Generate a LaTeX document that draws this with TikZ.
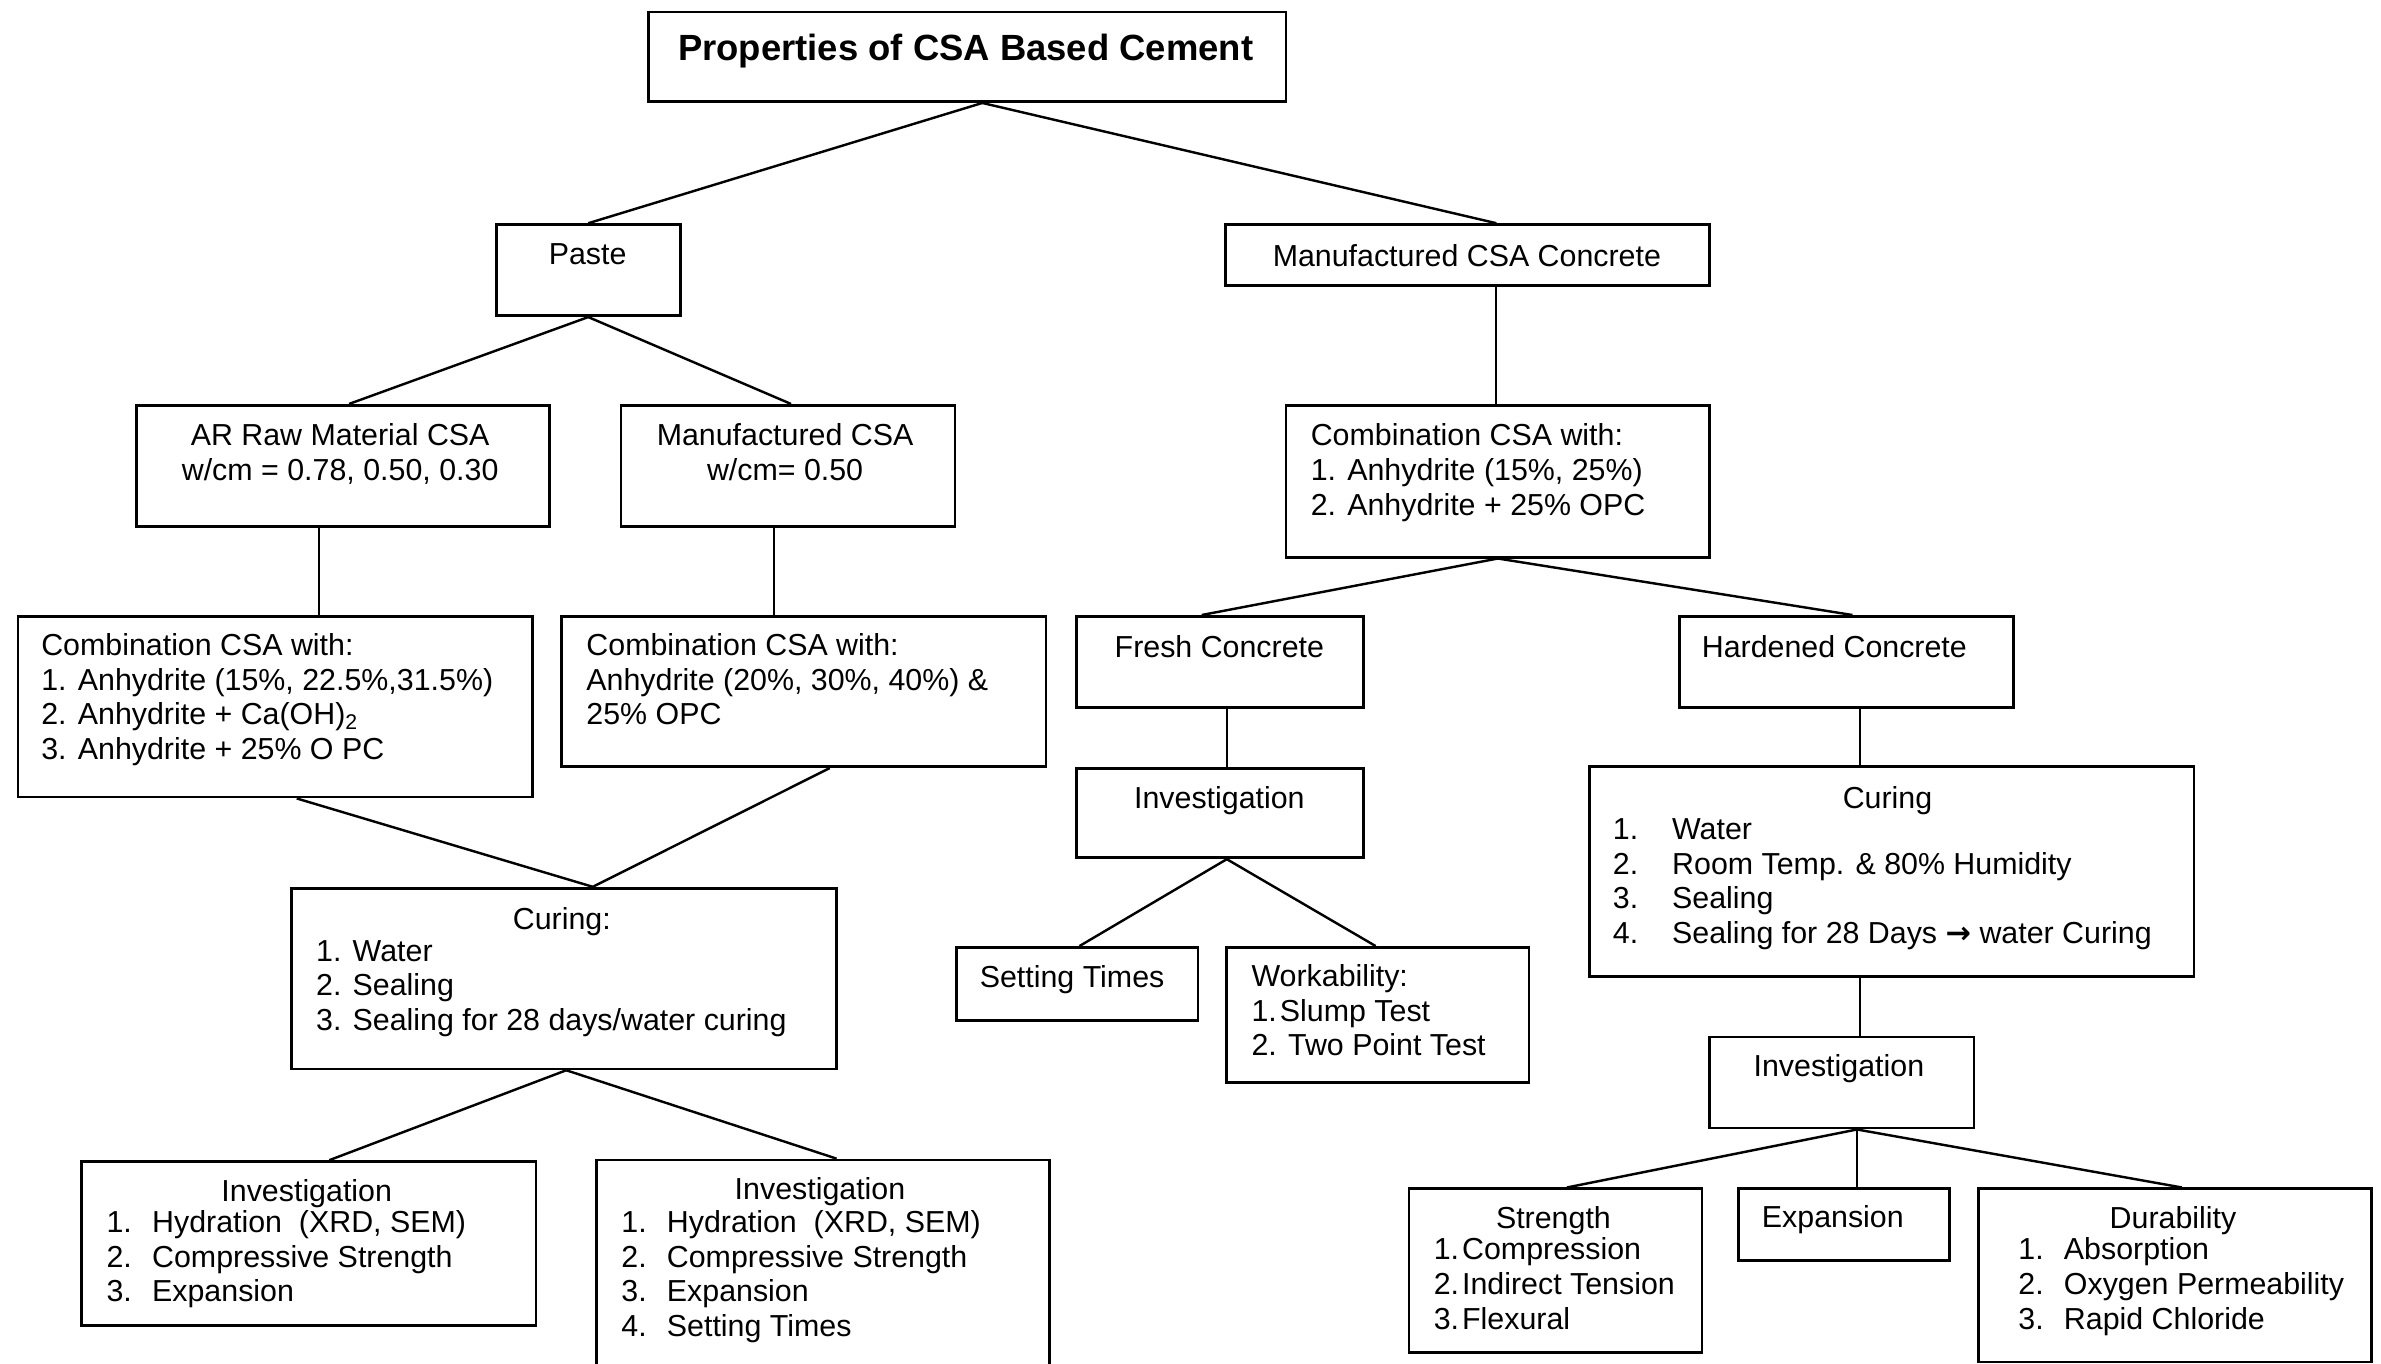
\documentclass[tikz,border=0pt]{standalone}
\usepackage{fontspec}
\setmainfont{Liberation Sans}
\newfontfamily\djv{DejaVu Sans}
\newcommand\fs{\fontsize{20}{22.8}\selectfont}
\newcommand\nm[2][30pt]{\makebox[#1][l]{#2}}
\tikzset{
  box/.style={draw, line width=1.8pt, inner sep=0pt, anchor=north west, rectangle},
  conn/.style={line width=1.6pt},
  vconn/.style={line width=1.2pt},
  tl/.style={inner sep=0pt, anchor=north west, yshift=16pt, align=left, font=\fs, execute at begin node={\rule{0pt}{16pt}}},
  tc/.style={inner sep=0pt, anchor=north, yshift=16pt, align=center, font=\fs, execute at begin node={\rule{0pt}{16pt}}},
}
\begin{document}
\begin{tikzpicture}[x=1pt,y=-1pt]
\useasboundingbox (0,0) rectangle (1568,898);
\clip (0,0) rectangle (1568,898);
% boxes
\node[box, minimum width=420pt, minimum height=59pt] (title) at (426,7) {};
\node[box, minimum width=121pt, minimum height=60pt] (paste) at (326,147) {};
\node[box, minimum width=319pt, minimum height=40pt] (mcc) at (806,147) {};
\node[box, minimum width=272pt, minimum height=80pt] (ar) at (89,266) {};
\node[box, minimum width=220pt, minimum height=80pt] (mcsa) at (408,266) {};
\node[box, minimum width=279pt, minimum height=100pt] (comb3) at (846,266) {};
\node[box, minimum width=339pt, minimum height=119pt] (comb1) at (11,405) {};
\node[box, minimum width=319pt, minimum height=99pt] (comb2) at (369,405) {};
\node[box, minimum width=189pt, minimum height=60pt] (fresh) at (708,405) {};
\node[box, minimum width=220pt, minimum height=60pt] (hard) at (1105,405) {};
\node[box, minimum width=189pt, minimum height=59pt] (invf) at (708,505) {};
\node[box, minimum width=359pt, minimum height=119pt] (cur1) at (191,584) {};
\node[box, minimum width=398pt, minimum height=138pt] (cur2) at (1046,504) {};
\node[box, minimum width=159pt, minimum height=48pt] (setting) at (629,623) {};
\node[box, minimum width=199pt, minimum height=89pt] (work) at (807,623) {};
\node[box, minimum width=174pt, minimum height=60pt] (invh) at (1125,682) {};
\node[box, minimum width=299pt, minimum height=108pt] (invA) at (53,764) {};
\node[box, minimum width=298pt, minimum height=150pt] (invB) at (392,763) {};
\node[box, minimum width=193pt, minimum height=108pt] (strength) at (927,782) {};
\node[box, minimum width=139pt, minimum height=47pt] (expan) at (1144,782) {};
\node[box, minimum width=259pt, minimum height=114pt] (dura) at (1302,782) {};
% texts
\node[inner sep=0pt, anchor=base, font=\fontsize{24}{28}\selectfont\bfseries] (t-title) at (636,40) {Properties of CSA Based Cement};
\node[tc] (t-paste) at (387,174) {Paste};
\node[tc] (t-mcc) at (966,175) {Manufactured CSA Concrete};
\node[tc] (t-ar) at (224,295) {AR Raw Material CSA\\w/cm = 0.78, 0.50, 0.30};
\node[tc] (t-mcsa) at (517,295) {Manufactured CSA\\w/cm= 0.50};
\node[tl] (t-comb3) at (863,295) {Combination CSA with:\\1. Anhydrite (15\%, 25\%)\\2. Anhydrite + 25\% OPC};
\node[tl] (t-comb1) at (27,433) {Combination CSA with:\\1. Anhydrite (15\%, 22.5\%,31.5\%)\\2. Anhydrite + Ca(OH)\textsubscript{2}\\3. Anhydrite + 25\% O PC};
\node[tl] (t-comb2) at (386,433) {Combination CSA with:\\Anhydrite (20\%, 30\%, 40\%) \&\\25\% OPC};
\node[tc] (t-fresh) at (803,433) {Fresh Concrete};
\node[tc] (t-hard) at (1208,433) {Hardened Concrete};
\node[tc] (t-invf) at (803,532) {Investigation};
\node[tc] (t-cur1h) at (370,612) {Curing:};
\node[tl] (t-cur1) at (208,635) {1. Water\\2. Sealing\\3. Sealing for 28 days/water curing};
\node[tc] (t-cur2h) at (1243,532) {Curing};
\node[tl] (t-cur2) at (1062,555) {\nm[39pt]{1.}Water\\\nm[39pt]{2.}Room Temp. \& 80\% Humidity\\\nm[39pt]{3.}Sealing\\\nm[39pt]{4.}Sealing for 28 Days {\djv\bfseries →} water Curing};
\node[tc] (t-setting) at (706,650) {Setting Times};
\node[tl] (t-work) at (824,651) {Workability:\\1.\hspace{2pt}Slump Test\\2. Two Point Test};
\node[tc] (t-invh) at (1211,709) {Investigation};
\node[tc] (t-invAh) at (202,791) {Investigation};
\node[tl] (t-invA) at (70,813) {\nm{1.}Hydration\ \ (XRD, SEM)\\\nm{2.}Compressive Strength\\\nm{3.}Expansion};
\node[tc] (t-invBh) at (540,790) {Investigation};
\node[tl] (t-invB) at (409,813) {\nm{1.}Hydration\ \ (XRD, SEM)\\\nm{2.}Compressive Strength\\\nm{3.}Expansion\\\nm{4.}Setting Times};
\node[tc] (t-strh) at (1023,809) {Strength};
\node[tl] (t-str) at (944,831) {1.\hspace{2pt}Compression\\2.\hspace{2pt}Indirect Tension\\3.\hspace{2pt}Flexural};
\node[tc] (t-expan) at (1207,808) {Expansion};
\node[tc] (t-durah) at (1431,809) {Durability};
\node[tl] (t-dura) at (1329,831) {\nm{1.}Absorption\\\nm{2.}Oxygen Permeability\\\nm{3.}Rapid Chloride};
% connectors
\draw[conn] ([xshift=10pt]title.south) -- (paste.north);
\draw[conn] ([xshift=10pt]title.south) -- ([xshift=19pt]mcc.north);
\draw[conn] (paste.south) -- ([xshift=4pt]ar.north);
\draw[conn] (paste.south) -- ([xshift=2pt]mcsa.north);
\draw[vconn] ([xshift=19pt]mcc.south) -- ([xshift=19pt]mcc.south |- comb3.north);
\draw[vconn] ([xshift=-16pt]ar.south) -- ([xshift=-16pt]ar.south |- comb1.north);
\draw[vconn] ([xshift=-9pt]mcsa.south) -- ([xshift=-9pt]mcsa.south |- comb2.north);
\draw[conn] ([xshift=14pt]comb1.south) -- ([xshift=19pt]cur1.north);
\draw[conn] ([xshift=17pt]comb2.south) -- ([xshift=19pt]cur1.north);
\draw[conn] (comb3.south) -- ([xshift=-12pt]fresh.north);
\draw[conn] (comb3.south) -- ([xshift=4pt]hard.north);
\draw[vconn] ([xshift=4.5pt]fresh.south) -- ([xshift=4.5pt]fresh.south |- invf.north);
\draw[conn] ([xshift=4.5pt]invf.south) -- ([xshift=1.5pt]setting.north);
\draw[conn] ([xshift=4.5pt]invf.south) -- ([xshift=-1.5pt]work.north);
\draw[vconn] ([xshift=9pt]hard.south) -- ([xshift=9pt]hard.south |- cur2.north);
\draw[vconn] ([xshift=-21pt]cur2.south) -- ([xshift=-21pt]cur2.south |- invh.north);
\draw[conn] ([xshift=10pt]invh.south) -- ([xshift=7.5pt]strength.north);
\draw[vconn] ([xshift=10pt]invh.south) -- ([xshift=10pt]invh.south |- expan.north);
\draw[conn] ([xshift=10pt]invh.south) -- ([xshift=4.5pt]dura.north);
\draw[conn] ([xshift=1.5pt]cur1.south) -- ([xshift=13.5pt]invA.north);
\draw[conn] ([xshift=1.5pt]cur1.south) -- ([xshift=9pt]invB.north);
\end{tikzpicture}
\end{document}
